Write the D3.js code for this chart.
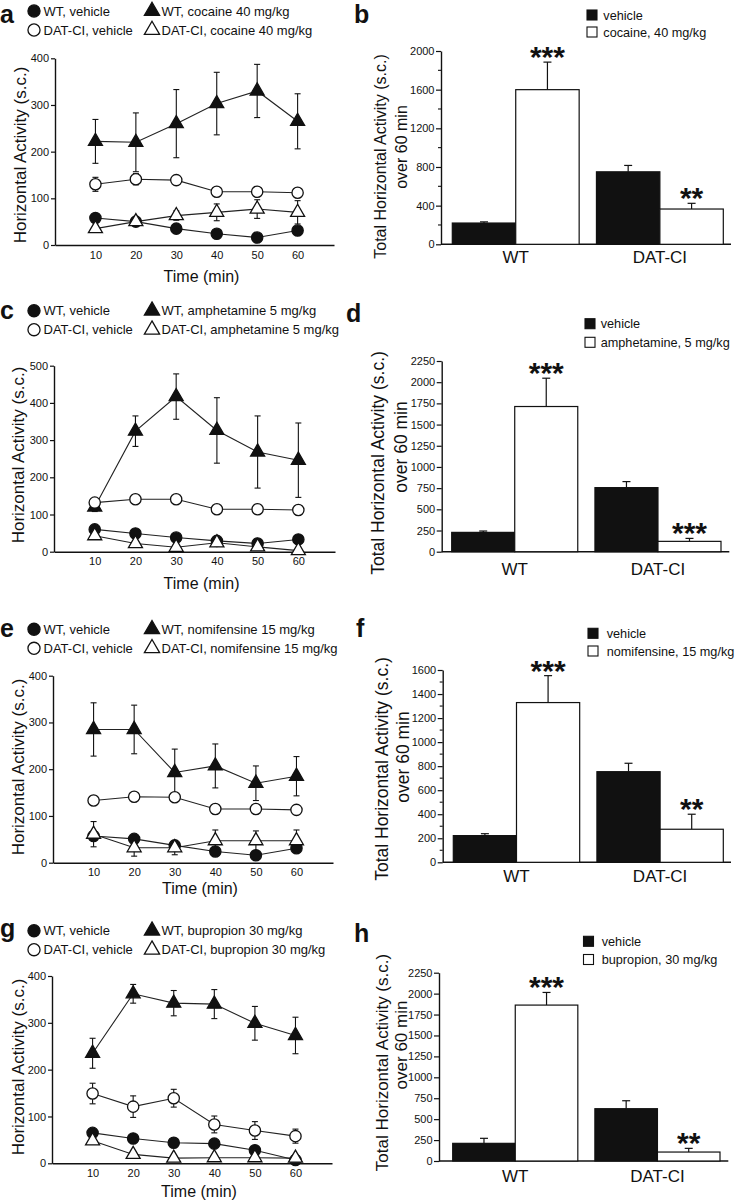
<!DOCTYPE html>
<html><head><meta charset="utf-8">
<script src="https://cdn.jsdelivr.net/npm/d3@7"></script>
<style>
body{margin:0;background:#fff;}
svg{display:block;font-family:Arial,"Liberation Sans",Helvetica,sans-serif;}
</style></head><body>
<svg id="chart" width="736" height="1200"></svg>
<script>
// ---------- DATA ----------
const timePoints = [10, 20, 30, 40, 50, 60];

// Panel a (cocaine)
const aWTVehicle = [58, 50, 35, 24, 16, 31];
const aWTVehicleErr = [8, 8, 6, 4, 3, 5];
const aDATVehicle = [130, 141, 139, 114, 114, 112];
const aDATVehicleErr = [15, 12, 8, 6, 6, 8];
const aWTDrug = [222, 220, 260, 303, 330, 265];
const aWTDrugErr = [47, 63, 73, 67, 57, 59];
const aDATDrug = [35, 50, 63, 70, 77, 70];
const aDATDrugErr = [6, 10, 10, 18, 20, 25];
const aLegend = ["WT, vehicle", "DAT-CI, vehicle", "WT, cocaine 40 mg/kg", "DAT-CI, cocaine 40 mg/kg"];
const aYTicks = [0, 100, 200, 300, 400];

// Panel c (amphetamine)
const cWTVehicle = [60, 49, 38, 29, 22, 33];
const cWTVehicleErr = [6, 5, 5, 4, 4, 5];
const cDATVehicle = [132, 141, 141, 114, 114, 112];
const cDATVehicleErr = [10, 8, 6, 5, 5, 6];
const cWTDrug = [120, 324, 417, 326, 268, 246];
const cWTDrugErr = [12, 41, 61, 88, 97, 100];
const cDATDrug = [43, 22, 12, 24, 13, 3];
const cDATDrugErr = [5, 4, 3, 4, 3, 2];
const cLegend = ["WT, vehicle", "DAT-CI, vehicle", "WT, amphetamine 5 mg/kg", "DAT-CI, amphetamine 5  mg/kg"];
const cYTicks = [0, 100, 200, 300, 400, 500];

// Panel e (nomifensine)
const eWTVehicle = [57, 51, 37, 24, 16, 31];
const eWTVehicleErr = [6, 5, 5, 4, 3, 5];
const eDATVehicle = [133, 141, 140, 115, 115, 113];
const eDATVehicleErr = [10, 8, 6, 5, 5, 6];
const eWTDrug = [285, 285, 193, 207, 170, 185];
const eWTDrugErr = [57, 52, 50, 47, 37, 42];
const eDATDrug = [61, 32, 32, 47, 47, 47];
const eDATDrugErr = [27, 18, 15, 23, 21, 23];
const eLegend = ["WT, vehicle", "DAT-CI, vehicle", "WT, nomifensine 15 mg/kg", "DAT-CI, nomifensine 15 mg/kg"];
const eYTicks = [0, 100, 200, 300, 400];

// Panel g (bupropion)
const gWTVehicle = [65, 53, 44, 42, 28, 7];
const gWTVehicleErr = [5, 5, 5, 5, 5, 3];
const gDATVehicle = [149, 121, 139, 83, 70, 58];
const gDATVehicleErr = [22, 23, 19, 18, 19, 15];
const gWTDrug = [235, 362, 342, 340, 299, 273];
const gWTDrugErr = [32, 20, 27, 31, 36, 39];
const gDATDrug = [48, 19, 11, 12, 12, 11];
const gDATDrugErr = [4, 3, 2, 2, 2, 2];
const gLegend = ["WT, vehicle", "DAT-CI, vehicle", "WT, bupropion 30 mg/kg", "DAT-CI, bupropion 30 mg/kg"];
const gYTicks = [0, 100, 200, 300, 400];

// Bar panels
const barGroups = ["WT", "DAT-CI"];

const bVehicle = [220, 750];
const bVehicleErr = [12, 66];
const bDrug = [1600, 365];
const bDrugErr = [285, 59];
const bStars = ["***", "**"];
const bLegend = ["vehicle", "cocaine, 40 mg/kg"];
const bYTicks = [0, 400, 800, 1200, 1600, 2000];

const dVehicle = [228, 756];
const dVehicleErr = [16, 71];
const dDrug = [1713, 122];
const dDrugErr = [334, 35];
const dStars = ["***", "***"];
const dLegend = ["vehicle", "amphetamine, 5 mg/kg"];
const dYTicks = [0, 250, 500, 750, 1000, 1250, 1500, 1750, 2000, 2250];

const fVehicle = [222, 754];
const fVehicleErr = [16, 70];
const fDrug = [1329, 275];
const fDrugErr = [224, 125];
const fStars = ["***", "**"];
const fLegend = ["vehicle", "nomifensine, 15 mg/kg"];
const fYTicks = [0, 200, 400, 600, 800, 1000, 1200, 1400, 1600];

const hVehicle = [211, 625];
const hVehicleErr = [60, 95];
const hDrug = [1863, 107];
const hDrugErr = [151, 44];
const hStars = ["***", "**"];
const hLegend = ["vehicle", "bupropion, 30 mg/kg"];
const hYTicks = [0, 250, 500, 750, 1000, 1250, 1500, 1750, 2000, 2250];

const yLabelLine = "Horizontal Activity (s.c.)";
const barYLabel1 = "Total Horizontal Activity (s.c.)";
const barYLabel2 = "over 60 min";
const timeLabel = "Time (min)";

// ---------- DRAWING ----------
const svg = d3.select("#chart");
const INK = "#111";
const fmt = d3.format("d");

function styleAxis(g, fs) {
  g.selectAll("path.domain").attr("stroke", INK).attr("stroke-width", 1.4);
  g.selectAll(".tick line").attr("stroke", INK).attr("stroke-width", 1.2);
  g.selectAll(".tick text").attr("fill", INK).attr("font-size", fs).attr("font-family", "Arial, 'Liberation Sans', sans-serif");
}

function drawLinePanel(cfg) {
  const g = svg.append("g");
  const x = d3.scaleLinear().domain([0, 69]).range([cfg.xL, cfg.xR]);
  const y = d3.scaleLinear().domain([0, cfg.yMax]).range([cfg.y0, cfg.yTop]);

  const ya = g.append("g").attr("transform", `translate(${cfg.xL},0)`)
    .call(d3.axisLeft(y).tickValues(cfg.ticks).tickFormat(fmt).tickSize(4).tickSizeOuter(0).tickPadding(2));
  styleAxis(ya, 11);
  const xa = g.append("g").attr("transform", `translate(0,${cfg.y0})`)
    .call(d3.axisBottom(x).tickValues(timePoints).tickFormat(fmt).tickSize(0).tickSizeOuter(0).tickPadding(6));
  styleAxis(xa, 11);

  const circle = d3.symbol().type(d3.symbolCircle).size(100);
  const tri = d3.symbol().type(d3.symbolTriangle).size(85);

  const series = [
    {vals: cfg.wtv, errs: cfg.wtvE, sym: circle, fill: INK},
    {vals: cfg.wtd, errs: cfg.wtdE, sym: tri, fill: INK},
    {vals: cfg.datv, errs: cfg.datvE, sym: circle, fill: "#fff"},
    {vals: cfg.datd, errs: cfg.datdE, sym: tri, fill: "#fff"}
  ];
  const line = d3.line().x((d, i) => x(timePoints[i])).y(d => y(d));
  series.forEach(s => {
    g.append("path").attr("d", line(s.vals)).attr("fill", "none").attr("stroke", "#222").attr("stroke-width", 1.1);
  });
  series.forEach(s => {
    const eg = g.append("g").attr("stroke", INK).attr("stroke-width", 1.1);
    s.vals.forEach((v, i) => {
      const cx = x(timePoints[i]);
      const t = y(v + s.errs[i]), b = y(Math.max(0, v - s.errs[i]));
      eg.append("line").attr("x1", cx).attr("x2", cx).attr("y1", t).attr("y2", b);
      eg.append("line").attr("x1", cx - 3).attr("x2", cx + 3).attr("y1", t).attr("y2", t);
      eg.append("line").attr("x1", cx - 3).attr("x2", cx + 3).attr("y1", b).attr("y2", b);
    });
  });
  series.forEach(s => {
    g.append("g").selectAll("path").data(s.vals).join("path")
      .attr("transform", (d, i) => `translate(${x(timePoints[i])},${y(d)})`)
      .attr("d", s.sym()).attr("fill", s.fill).attr("stroke", INK).attr("stroke-width", 1.3);
  });

  // legend
  const lg = g.append("g");
  const lsymC = d3.symbol().type(d3.symbolCircle).size(115);
  const lsymT = d3.symbol().type(d3.symbolTriangle).size(100);
  const items = [
    {sym: lsymC, fill: INK, x: 34, row: 0, text: cfg.legend[0]},
    {sym: lsymC, fill: "#fff", x: 34, row: 1, text: cfg.legend[1]},
    {sym: lsymT, fill: INK, x: 152, row: 0, text: cfg.legend[2]},
    {sym: lsymT, fill: "#fff", x: 152, row: 1, text: cfg.legend[3]}
  ];
  items.forEach(it => {
    const yy = cfg.legY + it.row * 19;
    lg.append("path").attr("transform", `translate(${it.x},${yy})`).attr("d", it.sym())
      .attr("fill", it.fill).attr("stroke", INK).attr("stroke-width", 1.3);
    lg.append("text").attr("x", it.x + 9.5).attr("y", yy).attr("dy", "0.36em")
      .attr("font-size", 13).attr("fill", INK).text(it.text);
  });
  // panel letter
  g.append("text").attr("x", 0).attr("y", cfg.letterY).attr("font-size", 25).attr("font-weight", "bold")
    .attr("fill", INK).text(cfg.letter);
  // y label
  g.append("text").attr("transform", `translate(${cfg.ylX},${cfg.ylY}) rotate(-90)`)
    .attr("text-anchor", "middle").attr("dy", "0.35em").attr("font-size", 17).attr("fill", INK).text(yLabelLine);
  // x label
  g.append("text").attr("x", (x(10) + x(60)) / 2 + 5).attr("y", cfg.timeY).attr("dy", "0.35em")
    .attr("text-anchor", "middle").attr("font-size", 16).attr("fill", INK).text(timeLabel);
}

function drawBarPanel(cfg) {
  const g = svg.append("g");
  const y = d3.scaleLinear().domain([0, cfg.yMax]).range([cfg.y0, cfg.yTop]);
  const xg = d3.scaleBand().domain(barGroups).range([cfg.bx0, cfg.bx1]).paddingInner(0.12).paddingOuter(0);
  const xs = d3.scaleBand().domain(["vehicle", "drug"]).range([0, xg.bandwidth()]).padding(0);

  // minor ticks
  if (cfg.minor) {
    const minorVals = d3.range(cfg.minor, cfg.yMax, cfg.minor * 2);
    g.append("g").selectAll("line").data(minorVals).join("line")
      .attr("x1", cfg.ax - 3).attr("x2", cfg.ax).attr("y1", d => y(d)).attr("y2", d => y(d))
      .attr("stroke", INK).attr("stroke-width", 1.1);
  }
  const ya = g.append("g").attr("transform", `translate(${cfg.ax},0)`)
    .call(d3.axisLeft(y).tickValues(cfg.ticks).tickFormat(fmt).tickSize(5).tickSizeOuter(0).tickPadding(1.5));
  styleAxis(ya, 11);
  // x baseline
  g.append("line").attr("x1", cfg.ax).attr("x2", cfg.axEnd).attr("y1", cfg.y0).attr("y2", cfg.y0)
    .attr("stroke", INK).attr("stroke-width", 1.4);

  const rows = [];
  barGroups.forEach((grp, i) => {
    rows.push({grp, key: "vehicle", v: cfg.veh[i], e: cfg.vehE[i], fill: INK, star: null});
    rows.push({grp, key: "drug", v: cfg.drug[i], e: cfg.drugE[i], fill: "#fff", star: cfg.stars[i]});
  });
  rows.forEach(r => {
    const bx = xg(r.grp) + xs(r.key);
    const bw = xs.bandwidth();
    const cx = bx + bw / 2;
    const top = y(r.v + r.e);
    g.append("line").attr("x1", cx).attr("x2", cx).attr("y1", y(r.v)).attr("y2", top)
      .attr("stroke", INK).attr("stroke-width", 1.2);
    g.append("line").attr("x1", cx - 4).attr("x2", cx + 4).attr("y1", top).attr("y2", top)
      .attr("stroke", INK).attr("stroke-width", 1.2);
    g.append("rect").attr("x", bx).attr("y", y(r.v)).attr("width", bw).attr("height", cfg.y0 - y(r.v))
      .attr("fill", r.fill).attr("stroke", INK).attr("stroke-width", 1.2);
    if (r.star) {
      g.append("text").attr("x", cx).attr("y", top + 5).attr("text-anchor", "middle")
        .attr("font-size", 30).attr("font-weight", "bold").attr("fill", INK).text(r.star);
    }
  });
  // category labels
  barGroups.forEach(grp => {
    g.append("text").attr("x", xg(grp) + xg.bandwidth() / 2).attr("y", cfg.catY).attr("dy", "0.35em")
      .attr("text-anchor", "middle").attr("font-size", 17).attr("fill", INK).text(grp);
  });
  // legend
  [0, 1].forEach(i => {
    const yy = cfg.legY + i * cfg.legGap;
    g.append("rect").attr("x", cfg.legX).attr("y", yy - 5).attr("width", 10).attr("height", 10)
      .attr("fill", i === 0 ? INK : "#fff").attr("stroke", INK).attr("stroke-width", 1.1);
    g.append("text").attr("x", cfg.legTX).attr("y", yy).attr("dy", "0.36em")
      .attr("font-size", 12.7).attr("fill", INK).text(cfg.legend[i]);
  });
  // letter
  g.append("text").attr("x", cfg.letterX).attr("y", cfg.letterY).attr("font-size", 25).attr("font-weight", "bold")
    .attr("fill", INK).text(cfg.letter);
  // y labels
  g.append("text").attr("transform", `translate(${cfg.yl1X},${cfg.yl1Y}) rotate(-90)`)
    .attr("text-anchor", "middle").attr("dy", "0.35em").attr("font-size", cfg.ylFs).attr("fill", INK).text(barYLabel1);
  g.append("text").attr("transform", `translate(${cfg.yl2X},${cfg.yl2Y}) rotate(-90)`)
    .attr("text-anchor", "middle").attr("dy", "0.35em").attr("font-size", cfg.ylFs).attr("fill", INK).text(barYLabel2);
}

drawLinePanel({letter: "a", letterY: 23, legY: 11, xL: 55, xR: 334, y0: 245, yTop: 58.3, yMax: 400, ticks: aYTicks,
  wtv: aWTVehicle, wtvE: aWTVehicleErr, datv: aDATVehicle, datvE: aDATVehicleErr,
  wtd: aWTDrug, wtdE: aWTDrugErr, datd: aDATDrug, datdE: aDATDrugErr, legend: aLegend,
  ylX: 20, ylY: 155, timeY: 276});
drawLinePanel({letter: "c", letterY: 318.5, legY: 310.7, xL: 54, xR: 335, y0: 551.7, yTop: 365.7, yMax: 500, ticks: cYTicks,
  wtv: cWTVehicle, wtvE: cWTVehicleErr, datv: cDATVehicle, datvE: cDATVehicleErr,
  wtd: cWTDrug, wtdE: cWTDrugErr, datd: cDATDrug, datdE: cDATDrugErr, legend: cLegend,
  ylX: 18.5, ylY: 455, timeY: 583});
drawLinePanel({letter: "e", letterY: 636.5, legY: 629.3, xL: 53, xR: 333, y0: 862.7, yTop: 675.7, yMax: 400, ticks: eYTicks,
  wtv: eWTVehicle, wtvE: eWTVehicleErr, datv: eDATVehicle, datvE: eDATVehicleErr,
  wtd: eWTDrug, wtdE: eWTDrugErr, datd: eDATDrug, datdE: eDATDrugErr, legend: eLegend,
  ylX: 18.5, ylY: 767, timeY: 888});
drawLinePanel({letter: "g", letterY: 937, legY: 930.7, xL: 52, xR: 332, y0: 1163.3, yTop: 976, yMax: 400, ticks: gYTicks,
  wtv: gWTVehicle, wtvE: gWTVehicleErr, datv: gDATVehicle, datvE: gDATVehicleErr,
  wtd: gWTDrug, wtdE: gWTDrugErr, datd: gDATDrug, datdE: gDATDrugErr, legend: gLegend,
  ylX: 18.5, ylY: 1067, timeY: 1191.5});

drawBarPanel({letter: "b", letterX: 354, letterY: 23, ax: 441, axEnd: 731, y0: 244.3, yTop: 51, yMax: 2000, ticks: bYTicks, minor: 200,
  bx0: 452.3, bx1: 723.3, veh: bVehicle, vehE: bVehicleErr, drug: bDrug, drugE: bDrugErr, stars: bStars,
  catY: 256.7, legX: 587, legY: 15, legGap: 17, legTX: 603.3, legend: bLegend,
  ylFs: 16, yl1X: 380, yl1Y: 156.5, yl2X: 401.7, yl2Y: 147});
drawBarPanel({letter: "d", letterX: 346, letterY: 321.7, ax: 441.7, axEnd: 729.3, y0: 551.7, yTop: 361, yMax: 2250, ticks: dYTicks, minor: 0,
  bx0: 451.7, bx1: 721, veh: dVehicle, vehE: dVehicleErr, drug: dDrug, drugE: dDrugErr, stars: dStars,
  catY: 569.3, legX: 585, legY: 323.7, legGap: 18.6, legTX: 600.7, legend: dLegend,
  ylFs: 17.5, yl1X: 378.3, yl1Y: 463, yl2X: 400.7, yl2Y: 447});
drawBarPanel({letter: "f", letterX: 356, letterY: 636.7, ax: 442.7, axEnd: 731, y0: 862.3, yTop: 670, yMax: 1600, ticks: fYTicks, minor: 100,
  bx0: 453.3, bx1: 723.3, veh: fVehicle, vehE: fVehicleErr, drug: fDrug, drugE: fDrugErr, stars: fStars,
  catY: 876, legX: 588, legY: 633.3, legGap: 17.7, legTX: 606.7, legend: fLegend,
  ylFs: 17.5, yl1X: 381.7, yl1Y: 769, yl2X: 403.3, yl2Y: 757});
drawBarPanel({letter: "h", letterX: 354, letterY: 941.7, ax: 439, axEnd: 728.3, y0: 1161, yTop: 972.7, yMax: 2250, ticks: hYTicks, minor: 0,
  bx0: 452.7, bx1: 720, veh: hVehicle, vehE: hVehicleErr, drug: hDrug, drugE: hDrugErr, stars: hStars,
  catY: 1176, legX: 583.5, legY: 941.3, legGap: 18.2, legTX: 601.7, legend: hLegend,
  ylFs: 17, yl1X: 381.7, yl1Y: 1062.5, yl2X: 401, yl2Y: 1045});
</script>
</body></html>
